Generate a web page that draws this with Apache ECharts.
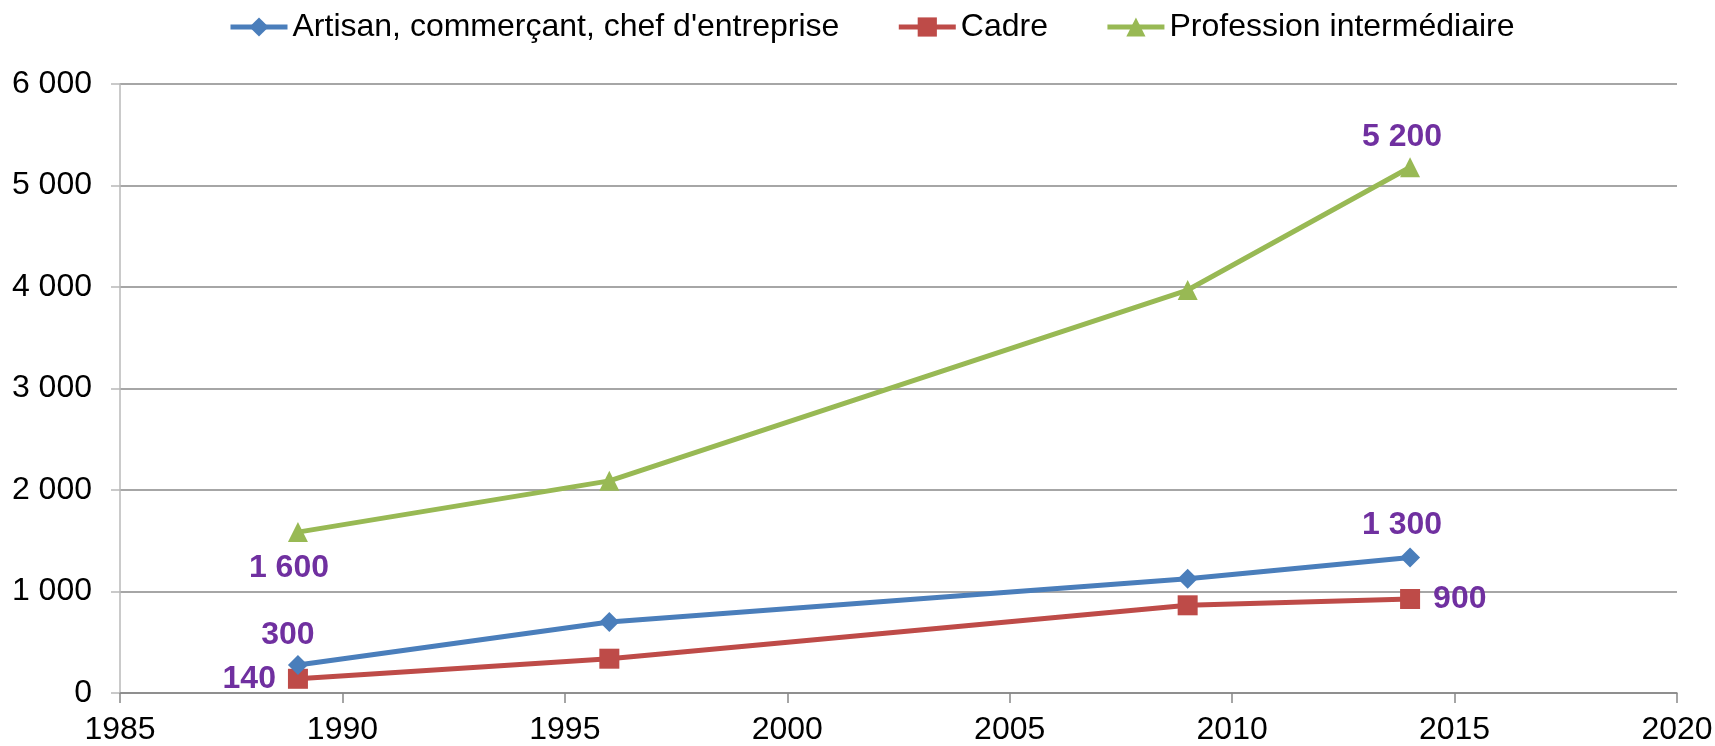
<!DOCTYPE html>
<html>
<head>
<meta charset="utf-8">
<script src="https://cdn.jsdelivr.net/npm/echarts@6/dist/echarts.min.js"></script>
<style>
  html, body { margin: 0; padding: 0; background: #fff; }
  #chart { width: 1715px; height: 746px; }
</style>
</head>
<body>
<div id="chart"></div>
<script>
// ---- data ----
const seriesNames = ["Artisan, commerçant, chef d'entreprise", "Cadre", "Profession intermédiaire"];
const years = [1989, 1996, 2009, 2014];
const artisanValues = [275, 700, 1125, 1335];
const cadreValues = [140, 338, 864, 926];
const professionValues = [1585, 2090, 3970, 5180];
const artisanLabels = ["300", "", "", "1 300"];
const cadreLabels = ["140", "", "", "900"];
const professionLabels = ["1 600", "", "", "5 200"];
const xTickMin = 1985, xTickMax = 2020, xTickStep = 5;
const yTickMin = 0, yTickMax = 6000, yTickStep = 1000;

// ---- styles ----
const FONT = "'Liberation Sans', Arial, sans-serif";
const labelBase = { show: true, color: '#7030A0', fontWeight: 'bold', fontSize: 32, fontFamily: FONT };
const artisanLabelPos = [
  { position: 'top', distance: 4, offset: [-10, 0] }, null, null,
  { position: 'top', distance: 6, offset: [-8, 0] }
];
const cadreLabelPos = [
  { position: 'left', distance: 12, offset: [0, 0] }, null, null,
  { position: 'right', distance: 13, offset: [0, 0] }
];
const professionLabelPos = [
  { position: 'bottom', distance: 10, offset: [-9, 0] }, null, null,
  { position: 'top', distance: 4, offset: [-8, 0] }
];

function buildData(values, labels, posList) {
  return values.map((v, i) => {
    const item = { value: [years[i], v] };
    if (labels[i] && posList[i]) {
      item.label = Object.assign({}, labelBase, posList[i], { formatter: labels[i] });
    }
    return item;
  });
}

function fmtThousands(v) {
  return String(v).replace(/\B(?=(\d{3})+(?!\d))/g, ' ');
}

const colors = ['#4A7EBB', '#BE4B48', '#98B954'];

const chart = echarts.init(document.getElementById('chart'), null, { renderer: 'canvas' });
chart.setOption({
  animation: false,
  backgroundColor: '#ffffff',
  textStyle: { fontFamily: FONT },
  legend: {
    top: 6,
    left: 223,
    itemWidth: 57,
    itemHeight: 24,
    itemGap: 57,
    lineStyle: { width: 5 },
    textStyle: { fontSize: 32, color: '#000', fontFamily: FONT },
    data: seriesNames
  },
  grid: {
    left: 120, right: 38, top: 84, bottom: 53,
    containLabel: false,
    outerBoundsMode: 'none'
  },
  xAxis: {
    type: 'value',
    min: xTickMin, max: xTickMax, interval: xTickStep,
    axisLine: { show: true, lineStyle: { color: '#888888', width: 1.5 } },
    axisTick: { show: true, inside: false, length: 10, lineStyle: { color: '#888888', width: 1.5 } },
    axisLabel: { fontSize: 32, color: '#000', margin: 21, fontFamily: FONT, formatter: v => String(v) },
    splitLine: { show: false }
  },
  yAxis: {
    type: 'value',
    min: yTickMin, max: yTickMax, interval: yTickStep,
    axisLine: { show: true, lineStyle: { color: '#b8b8b8', width: 1.5 } },
    axisTick: { show: true, inside: false, length: 9, lineStyle: { color: '#b8b8b8', width: 1.5 } },
    axisLabel: { fontSize: 32, color: '#000', margin: 28, fontFamily: FONT, formatter: v => fmtThousands(v) },
    splitLine: { show: true, lineStyle: { color: '#888888', width: 1.5 } }
  },
  series: [
    {
      name: seriesNames[0], type: 'line',
      data: buildData(artisanValues, artisanLabels, artisanLabelPos),
      symbol: 'diamond', symbolSize: 20,
      lineStyle: { color: colors[0], width: 5 },
      itemStyle: { color: colors[0] },
      label: { show: false }, z: 3
    },
    {
      name: seriesNames[1], type: 'line',
      data: buildData(cadreValues, cadreLabels, cadreLabelPos),
      symbol: 'rect', symbolSize: 20,
      lineStyle: { color: colors[1], width: 5 },
      itemStyle: { color: colors[1] },
      label: { show: false }, z: 2
    },
    {
      name: seriesNames[2], type: 'line',
      data: buildData(professionValues, professionLabels, professionLabelPos),
      symbol: 'triangle', symbolSize: 20,
      lineStyle: { color: colors[2], width: 5 },
      itemStyle: { color: colors[2] },
      label: { show: false }, z: 1
    }
  ]
});
</script>
</body>
</html>
